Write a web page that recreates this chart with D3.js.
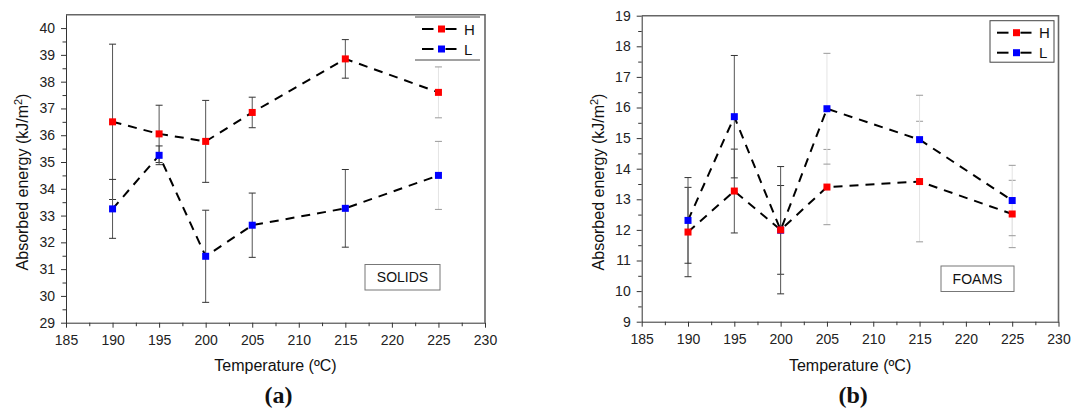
<!DOCTYPE html>
<html>
<head>
<meta charset="utf-8">
<script src="https://cdn.jsdelivr.net/npm/d3@7"></script>
<style>
  body { margin: 0; background: #fff; }
  svg { display: block; font-family: "Liberation Sans", Arial, sans-serif; }
</style>
</head>
<body>
<svg id="chart" width="1072" height="409"></svg>
<script>
// temperatures (ºC)
const temps = [190, 195, 200, 205, 215, 225];

// (a) solids
const solidsH    = [36.5, 36.05, 35.77, 36.85, 38.85, 37.6];
const solidsHErr = [2.9, 1.07, 1.53, 0.57, 0.72, 0.95];
const solidsL    = [33.25, 35.25, 31.48, 32.64, 33.27, 34.5];
const solidsLErr = [1.1, 0.35, 1.72, 1.2, 1.45, 1.27];

// (b) foams
const foamsH    = [11.93, 13.27, 12.0, 13.4, 13.58, 12.52];
const foamsHErr = [1.46, 1.37, 1.45, 1.23, 1.97, 1.1];
const foamsL    = [12.31, 15.7, 11.99, 15.96, 14.95, 12.96];
const foamsLErr = [1.4, 2.0, 2.08, 1.81, 1.45, 1.15];

const seriesNames = ["H", "L"];
const xTicks = [185, 190, 195, 200, 205, 210, 215, 220, 225, 230];

const colors = { H: "#ff0000", L: "#0000ff" };

const svg = d3.select("#chart");

const panels = [
  {
    left: 66, right: 485, top: 14.7, bottom: 322.7,
    yDomain: [29, 40.5], yTicks: d3.range(29, 41),
    series: [
      { name: "H", vals: solidsH, errs: solidsHErr },
      { name: "L", vals: solidsL, errs: solidsLErr }
    ],
    faintFrom: 225,
    label: "SOLIDS", labelBox: [365, 264.5, 75, 25.5],
    legend: { x: 415, y: 17, w: 65, h: 43, sides: false },
    tag: "(a)", yTitleX: 22
  },
  {
    left: 641.7, right: 1058.5, top: 15.7, bottom: 321.7,
    yDomain: [9, 19], yTicks: d3.range(9, 20),
    series: [
      { name: "H", vals: foamsH, errs: foamsHErr },
      { name: "L", vals: foamsL, errs: foamsLErr }
    ],
    faintFrom: 205,
    label: "FOAMS", labelBox: [941, 266, 73, 25.5],
    legend: { x: 990, y: 20.7, w: 64, h: 41.5, sides: true },
    tag: "(b)", yTitleX: 598
  }
];

panels.forEach(p => {

  const x = d3.scaleLinear().domain([185, 230]).range([p.left, p.right]);
  const y = d3.scaleLinear().domain(p.yDomain).range([p.bottom, p.top]);

  const g = svg.append("g");

  // frame (top + right in gray)
  g.append("path")
    .attr("d", `M${p.left},${p.top}H${p.right}V${p.bottom}`)
    .attr("fill", "none")
    .attr("stroke", "#666")
    .attr("stroke-width", 1.6);

  // minor ticks
  g.append("g")
    .attr("transform", `translate(0,${p.bottom})`)
    .call(d3.axisBottom(x).tickValues(d3.range(187.5, 230, 5)).tickSize(3.5).tickFormat(""))
    .call(s => s.select(".domain").remove());
  g.append("g")
    .attr("transform", `translate(${p.left},0)`)
    .call(d3.axisLeft(y).tickValues(p.yTicks.slice(0, -1).map(v => v + 0.5)).tickSize(3.5).tickFormat(""))
    .call(s => s.select(".domain").remove());

  // major axes
  const xa = g.append("g")
    .attr("transform", `translate(0,${p.bottom})`)
    .call(d3.axisBottom(x).tickValues(xTicks).tickSize(5).tickPadding(7).tickSizeOuter(0));
  const ya = g.append("g")
    .attr("transform", `translate(${p.left},0)`)
    .call(d3.axisLeft(y).tickValues(p.yTicks).tickSize(5).tickPadding(6).tickSizeOuter(0));

  [xa, ya].forEach(a => {
    a.selectAll("text").attr("font-size", 14).attr("fill", "#222")
      .attr("font-family", "Liberation Sans, Arial, sans-serif");
    a.selectAll("line,path").attr("stroke", "#333");
  });
  svg.selectAll(".tick line").attr("stroke", "#333");

  // error bars
  p.series.forEach(s => {
    const eg = g.append("g");
    temps.forEach((t, i) => {
      const faint = t >= p.faintFrom;
      const lo = y(s.vals[i] - s.errs[i]);
      const hi = y(s.vals[i] + s.errs[i]);
      eg.append("line")
        .attr("x1", x(t)).attr("x2", x(t))
        .attr("y1", lo).attr("y2", hi)
        .attr("stroke", faint ? "#e4e4e4" : "#555")
        .attr("stroke-width", 1);
      [lo, hi].forEach(yy => {
        eg.append("line")
          .attr("x1", x(t) - 3.5).attr("x2", x(t) + 3.5)
          .attr("y1", yy).attr("y2", yy)
          .attr("stroke", faint ? "#999" : "#333")
          .attr("stroke-width", 1);
      });
    });
  });

  // dashed lines
  const line = d3.line().x((d, i) => x(temps[i])).y(d => y(d));
  p.series.forEach(s => {
    g.append("path")
      .attr("d", line(s.vals))
      .attr("fill", "none")
      .attr("stroke", "#000")
      .attr("stroke-width", 2)
      .attr("stroke-dasharray", "9,7");
  });

  // markers (H on top of L)
  p.series.slice().reverse().forEach(s => {
    g.selectAll(null)
      .data(s.vals)
      .enter()
      .append("rect")
      .attr("x", (d, i) => x(temps[i]) - 3.5)
      .attr("y", d => y(d) - 3.5)
      .attr("width", 7)
      .attr("height", 7)
      .attr("fill", colors[s.name]);
  });

  // legend
  const lg = p.legend;
  const lgG = g.append("g");
  lgG.append("rect")
    .attr("x", lg.x).attr("y", lg.y).attr("width", lg.w).attr("height", lg.h)
    .attr("fill", "#fff")
    .attr("stroke", lg.sides ? "#444" : "none");
  if (!lg.sides) {
    [lg.y, lg.y + lg.h].forEach(yy => {
      lgG.append("line")
        .attr("x1", lg.x).attr("x2", lg.x + lg.w)
        .attr("y1", yy).attr("y2", yy)
        .attr("stroke", "#444");
    });
  }
  seriesNames.forEach((n, i) => {
    const cy = lg.y + 12 + i * 20;
    const mx = lg.x + 26.5;
    [[mx - 19.5, mx - 8], [mx + 4, mx + 15]].forEach(([a, b]) => {
      lgG.append("line")
        .attr("x1", a).attr("x2", b).attr("y1", cy).attr("y2", cy)
        .attr("stroke", "#000").attr("stroke-width", 2);
    });
    lgG.append("rect")
      .attr("x", mx - 3.5).attr("y", cy - 3.5).attr("width", 7).attr("height", 7)
      .attr("fill", colors[n]);
    lgG.append("text")
      .attr("x", lg.x + 49).attr("y", cy + 5.5)
      .attr("font-size", 15).attr("fill", "#111")
      .text(n);
  });

  // label box
  const [bx, by, bw, bh] = p.labelBox;
  g.append("rect")
    .attr("x", bx).attr("y", by).attr("width", bw).attr("height", bh)
    .attr("fill", "#fff").attr("stroke", "#777");
  g.append("text")
    .attr("x", bx + bw / 2).attr("y", by + bh / 2 + 5)
    .attr("text-anchor", "middle")
    .attr("font-size", 14).attr("fill", "#111")
    .text(p.label);

  // axis titles
  const cx = (p.left + p.right) / 2;
  g.append("text")
    .attr("x", cx).attr("y", 371)
    .attr("text-anchor", "middle")
    .attr("font-size", 16).attr("fill", "#111")
    .text("Temperature (ºC)");

  const yt = g.append("text")
    .attr("transform", `translate(${p.yTitleX + 5.5},182) rotate(-90)`)
    .attr("text-anchor", "middle")
    .attr("font-size", 16).attr("fill", "#111");
  yt.append("tspan").text("Absorbed energy (kJ/m");
  yt.append("tspan").attr("dy", -6).attr("font-size", 11).text("2");
  yt.append("tspan").attr("dy", 6).text(")");

  // panel tag
  g.append("text")
    .attr("x", cx + 3).attr("y", 403)
    .attr("text-anchor", "middle")
    .attr("font-family", "Liberation Serif, Times New Roman, serif")
    .attr("font-weight", "bold")
    .attr("font-size", 24).attr("fill", "#111")
    .text(p.tag);
});
</script>
</body>
</html>
